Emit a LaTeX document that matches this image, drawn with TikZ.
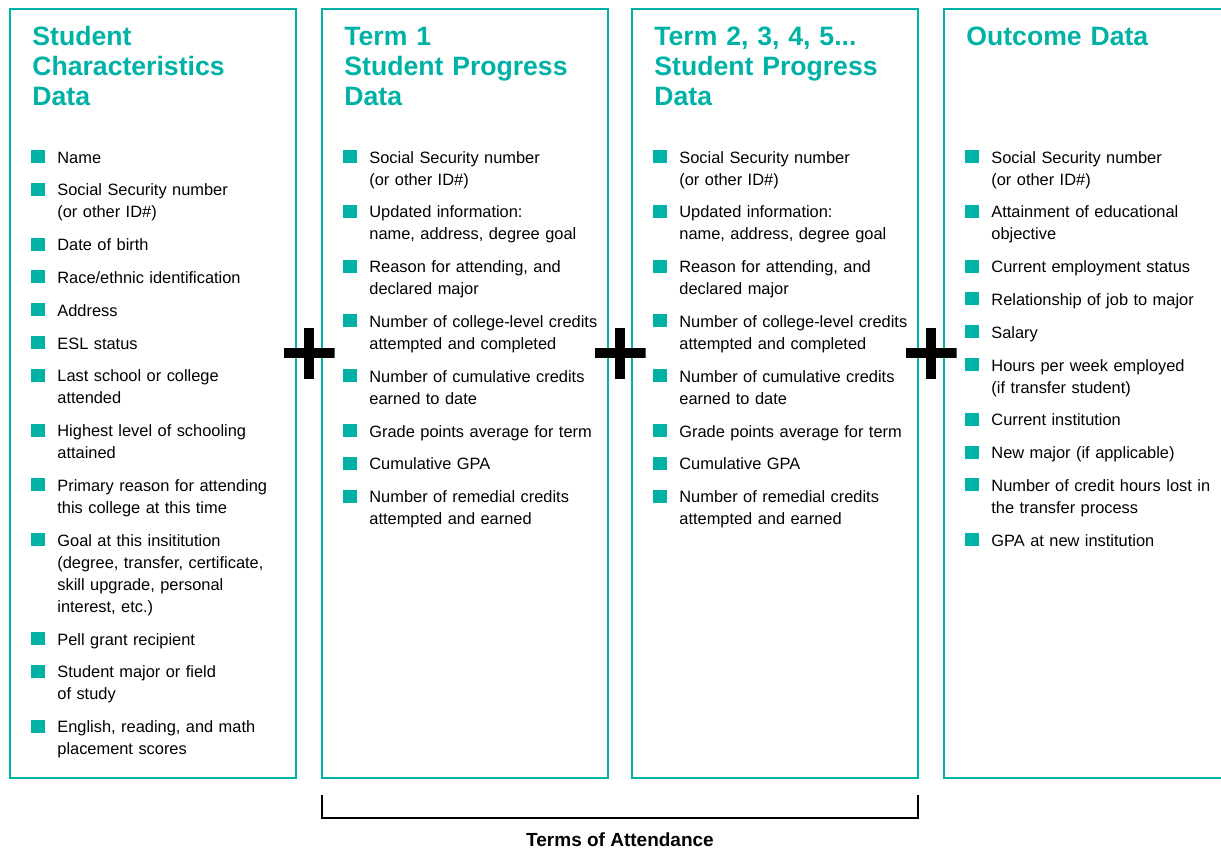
\documentclass[tikz,border=0pt]{standalone}
\usepackage{fontspec}
\setmainfont{Liberation Sans}
\usepackage{tikz}
\usetikzlibrary{positioning}
\usetikzlibrary{calc}
\definecolor{edteal}{RGB}{0,178,166}
\newcommand{\sqbullet}{\leavevmode\llap{\textcolor{edteal}{\rule{7pt}{6.5pt}}\hspace{6pt}}}
\newcommand{\nx}{\\[5.4pt]}
\tikzset{
	column/.style={draw=edteal, line width=1.2pt, rectangle, inner sep=0pt, outer sep=0pt, minimum width=143pt, minimum height=384.5pt},
	title/.style={anchor=base west, inner sep=0pt, text width=132pt, align=left, text=edteal, font=\bfseries\fontsize{13.3}{15}\selectfont},
	entry/.style={anchor=base west, inner sep=0pt, text width=122pt, align=left, font=\fontsize{8.2}{11}\selectfont},
	% the big black plus between two columns
	plusmark/.style={rectangle, inner sep=0pt, minimum size=25.5pt, path picture={
		\draw[line width=5pt] (path picture bounding box.north) -- (path picture bounding box.south)
			(path picture bounding box.west) -- (path picture bounding box.east);}},
	bracket/.style={draw, line width=1.2pt, black},
}

\begin{document}
\begin{tikzpicture}
		\useasboundingbox (0,0) rectangle (610.5pt,-424pt);
		
		\node (col1) [column] at (76.5pt,-196.75pt) {};
		\node (col2) [column, right=13pt of col1] {};
		\node (col3) [column, right=12pt of col2] {};
		\node (col4) [column, right=13pt of col3] {};
		
		\node (t1) [title] at ([shift={(11pt,-18pt)}]col1.north west) {Student\\Characteristics\\Data};
		\node (t2) [title] at ([shift={(11pt,-18pt)}]col2.north west) {Term 1\\Student Progress\\Data};
		\node (t3) [title] at ([shift={(11pt,-18pt)}]col3.north west) {Term 2, 3, 4, 5...\\Student Progress\\Data};
		\node (t4) [title] at ([shift={(11pt,-18pt)}]col4.north west) {Outcome Data};
		
		\node (l1) [entry] at ([shift={(23.5pt,-77pt)}]col1.north west) {
			\sqbullet Name\nx
			\sqbullet Social Security number\\(or other ID\#)\nx
			\sqbullet Date of birth\nx
			\sqbullet Race/ethnic identification\nx
			\sqbullet Address\nx
			\sqbullet ESL status\nx
			\sqbullet Last school or college\\attended\nx
			\sqbullet Highest level of schooling\\attained\nx
			\sqbullet Primary reason for attending\\this college at this time\nx
			\sqbullet Goal at this insititution\\(degree, transfer, certificate,\\skill upgrade, personal\\interest, etc.)\nx
			\sqbullet Pell grant recipient\nx
			\sqbullet Student major or field\\of study\nx
			\sqbullet English, reading, and math\\placement scores};
		
		\node (l2) [entry] at ([shift={(23.5pt,-77pt)}]col2.north west) {
			\sqbullet Social Security number\\(or other ID\#)\nx
			\sqbullet Updated information:\\name, address, degree goal\nx
			\sqbullet Reason for attending, and\\declared major\nx
			\sqbullet Number of college-level credits\\attempted and completed\nx
			\sqbullet Number of cumulative credits\\earned to date\nx
			\sqbullet Grade points average for term\nx
			\sqbullet Cumulative GPA\nx
			\sqbullet Number of remedial credits\\attempted and earned};
		
		\node (l3) [entry] at ([shift={(23.5pt,-77pt)}]col3.north west) {
			\sqbullet Social Security number\\(or other ID\#)\nx
			\sqbullet Updated information:\\name, address, degree goal\nx
			\sqbullet Reason for attending, and\\declared major\nx
			\sqbullet Number of college-level credits\\attempted and completed\nx
			\sqbullet Number of cumulative credits\\earned to date\nx
			\sqbullet Grade points average for term\nx
			\sqbullet Cumulative GPA\nx
			\sqbullet Number of remedial credits\\attempted and earned};
		
		\node (l4) [entry] at ([shift={(23.5pt,-77pt)}]col4.north west) {
			\sqbullet Social Security number\\(or other ID\#)\nx
			\sqbullet Attainment of educational\\objective\nx
			\sqbullet Current employment status\nx
			\sqbullet Relationship of job to major\nx
			\sqbullet Salary\nx
			\sqbullet Hours per week employed\\(if transfer student)\nx
			\sqbullet Current institution\nx
			\sqbullet New major (if applicable)\nx
			\sqbullet Number of credit hours lost in\\the transfer process\nx
			\sqbullet GPA at new institution};
		
		\node (plus1) [plusmark] at ([yshift=20.25pt]$(col1.east)!0.5!(col2.west)$) {};
		\node (plus2) [plusmark] at ([yshift=20.25pt]$(col2.east)!0.5!(col3.west)$) {};
		\node (plus3) [plusmark] at ([yshift=20.25pt]$(col3.east)!0.5!(col4.west)$) {};
		
		% bracket under the two term columns
		\coordinate (b1) at ([yshift=-8.5pt]col2.south west);
		\coordinate (b2) at ([yshift=-20pt]col2.south west);
		\coordinate (b3) at ([yshift=-20pt]col3.south east);
		\coordinate (b4) at ([yshift=-8.5pt]col3.south east);
		\draw[bracket] (b1) -- (b2) -- (b3) -- (b4);
		
		\node (terms) [anchor=base, inner sep=0pt, font=\bfseries\fontsize{9.5}{11}\selectfont] at ([yshift=-34pt]$(col2.south west)!0.5!(col3.south east)$) {Terms of Attendance};
	\end{tikzpicture}
\end{document}
